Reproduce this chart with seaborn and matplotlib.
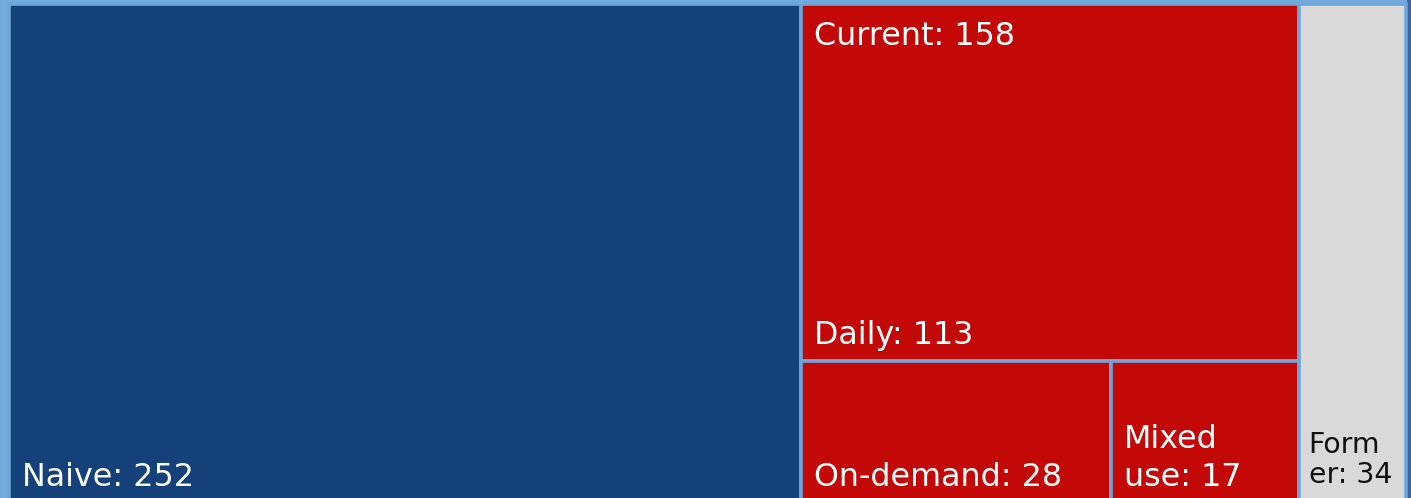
import matplotlib
matplotlib.use("Agg")
import matplotlib.pyplot as plt
from matplotlib.patches import Rectangle
import seaborn as sns

# ---- data ----
groups = ["Naive", "Current", "Former"]
group_values = [252, 158, 34]
current_children = ["Daily", "On-demand", "Mixed use"]
current_values = [113, 28, 17]
# displayed (wrapped) name text for each tile
display_names = {
    "Naive": ["Naive"],
    "Current": ["Current"],
    "Former": ["Form", "er"],
    "Daily": ["Daily"],
    "On-demand": ["On-demand"],
    "Mixed use": ["Mixed", "use"],
}

# ---- styles ----
sns.set_theme(style="white")
plt.rcParams["font.family"] = ["DejaVu Sans"]
BG = "#72AADD"
EDGE = "#6CA6DB"
DARK_EDGE = "#3F6799"
COLORS = {"Naive": "#15417A", "Current": "#C30808", "Former": "#D9D9D9"}
TEXT_COLORS = {"Naive": "white", "Current": "white", "Former": "#111111"}

W_PX, H_PX = 1411, 498
fig = plt.figure(figsize=(W_PX / 100, H_PX / 100), dpi=100)
fig.patch.set_facecolor(BG)
ax = fig.add_axes([0, 0, 1, 1])
ax.set_xlim(0, W_PX)
ax.set_ylim(H_PX, 0)
ax.axis("off")
ax.set_facecolor(BG)

# right dark strip of the frame
ax.add_patch(Rectangle((1407, 0), 10, H_PX, facecolor=DARK_EDGE, edgecolor="none", zorder=0))

# treemap frame
X0, Y0, FW, FH = 8.5, 4.0, 1397.0, 499.0
LW = 2.6
PAD_X = 13
PAD_BASE = 16.5
FS = 22.9


def tile(x, y, w, h, color):
    ax.add_patch(Rectangle((x, y), w, h, facecolor=color, edgecolor=EDGE,
                           linewidth=LW, zorder=1))


def label(x, y_base, lines, value, color, size, step):
    texts = list(lines)
    texts[-1] = f"{texts[-1]}: {value}"
    n = len(texts)
    for i, t in enumerate(texts):
        yb = y_base - (n - 1 - i) * step
        ax.text(x, yb, t, color=color, fontsize=size, ha="left", va="baseline", zorder=3)


total = sum(group_values)
x = X0
for g, v in zip(groups, group_values):
    w = FW * v / total
    if g == "Current":
        ctot = sum(current_values)
        # first child on top strip
        top_h = FH * current_values[0] / ctot
        tile(x, Y0, w, top_h, COLORS[g])
        # parent label at top
        label(x + PAD_X, Y0 + 41, display_names["Current"], v, TEXT_COLORS[g], FS, 38)
        label(x + PAD_X, Y0 + top_h - PAD_BASE, display_names[current_children[0]],
              current_values[0], TEXT_COLORS[g], FS, 38)
        rest = current_values[1:]
        rtot = sum(rest)
        cx = x
        for name, cv in zip(current_children[1:], rest):
            cw = w * cv / rtot
            tile(cx, Y0 + top_h, cw, FH - top_h, COLORS[g])
            label(cx + PAD_X, Y0 + FH - PAD_BASE - 1, display_names[name], cv,
                  TEXT_COLORS[g], FS, 38)
            cx += cw
    else:
        tile(x, Y0, w, FH, COLORS[g])
        if g == "Former":
            label(x + 10, Y0 + FH - PAD_BASE - 4, display_names[g], v,
                  TEXT_COLORS[g], 20.4, 30)
        else:
            label(x + PAD_X, Y0 + FH - PAD_BASE - 1, display_names[g], v,
                  TEXT_COLORS[g], FS, 38)
    x += w

fig.savefig("out.png", dpi=100, facecolor=fig.get_facecolor())
